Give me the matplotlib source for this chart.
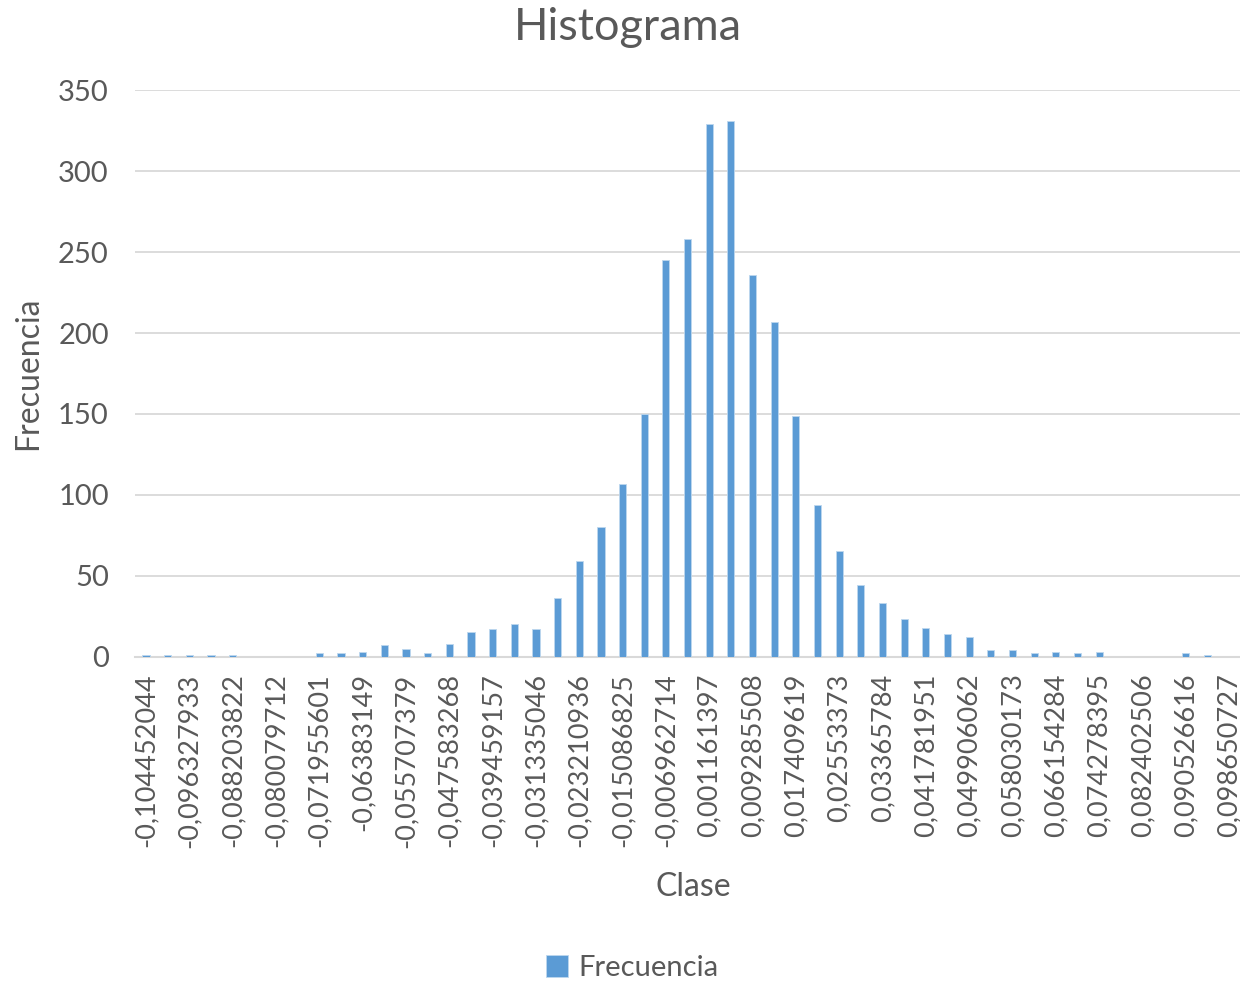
import matplotlib
matplotlib.use("Agg")
import matplotlib.pyplot as plt
import numpy as np

# etiquetas de clase (se muestra una de cada dos)
clase_labels = [
    "-0,104452044", "-0,096327933", "-0,088203822", "-0,080079712",
    "-0,071955601", "-0,06383149", "-0,055707379", "-0,047583268",
    "-0,039459157", "-0,031335046", "-0,023210936", "-0,015086825",
    "-0,006962714", "0,001161397", "0,009285508", "0,017409619",
    "0,02553373", "0,03365784", "0,041781951", "0,049906062",
    "0,058030173", "0,066154284", "0,074278395", "0,082402506",
    "0,090526616", "0,098650727",
]

frecuencia = [
    1, 1, 1, 1, 1, 0, 0, 0, 2, 2,
    3, 7, 5, 2, 8, 15, 17, 20, 17, 36,
    59, 80, 107, 150, 245, 258, 329, 331, 236, 207,
    149, 94, 65, 44, 33, 23, 18, 14, 12, 4,
    4, 2, 3, 2, 3, 0, 0, 0, 2, 1,
    0,
]

plt.rcParams['font.family'] = ['Lato', 'DejaVu Sans']
gris = "#595959"

fig = plt.figure(figsize=(12.4, 9.83), dpi=100)
ax = fig.add_axes([0.109, 0.332, 0.891, 0.576])

x = np.arange(len(frecuencia))
ax.bar(x, frecuencia, width=0.33, color="#5B9BD5", edgecolor="#BDD7EE",
       linewidth=0.6, label="Frecuencia", zorder=3)

ax.set_xlim(-0.5, len(frecuencia) - 0.5)
ax.set_ylim(0, 350)
ax.set_yticks(np.arange(0, 351, 50))
ax.yaxis.grid(True, color="#D9D9D9", linewidth=1.3, zorder=0)
ax.set_xticks(x[::2])
ax.set_xticklabels(clase_labels, rotation=90)
ax.tick_params(axis="both", length=0, colors=gris)
ax.tick_params(axis="x", labelsize=19.5, pad=12)
ax.tick_params(axis="y", labelsize=21, pad=19)

for s in ["top", "right", "left"]:
    ax.spines[s].set_visible(False)
ax.spines["bottom"].set_color("#D9D9D9")
ax.spines["bottom"].set_linewidth(1.5)

fig.text(0.506, 1 - 27 / 983, "Histograma", fontsize=32.5, color=gris,
         ha="center", va="center")
ax.set_xlabel("Clase", fontsize=23, color=gris, va="center")
ax.xaxis.set_label_coords(0.505, -0.407)
ax.set_ylabel("Frecuencia", fontsize=23, color=gris, va="center")
ax.yaxis.set_label_coords(-0.097, 0.501)

fig.legend(loc="center", bbox_to_anchor=(0.51, 1 - 968 / 983), frameon=False,
           fontsize=21, handlelength=0.75, handleheight=0.75,
           handletextpad=0.35, labelcolor=gris)

fig.savefig("out.png", dpi=100)
